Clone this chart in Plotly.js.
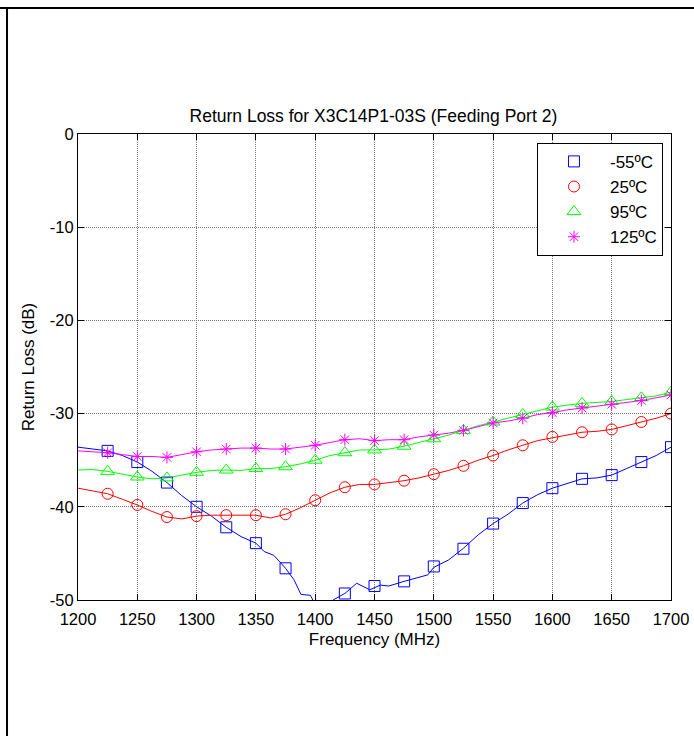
<!DOCTYPE html>
<html>
<head>
<meta charset="utf-8">
<script src="https://cdn.plot.ly/plotly-3.0.1.min.js"></script>
<style>html,body{margin:0;padding:0;background:#fff;}#chart{width:694px;height:736px;}</style>
</head>
<body>
<div id="chart"></div>
<script>
// ---- data ----
var seriesNames = ["-55ºC", "25ºC", "95ºC", "125ºC"];
var markerFreq = [1225,1250,1275,1300,1325,1350,1375,1400,1425,1450,1475,1500,1525,1550,1575,1600,1625,1650,1675,1700];
var m55Markers = [-34.0,-35.2,-37.4,-40.0,-42.2,-43.9,-46.6,-52.0,-49.3,-48.5,-48.0,-46.4,-44.5,-41.8,-39.6,-38.0,-37.0,-36.6,-35.2,-33.6];
var t25Markers = [-38.6,-39.8,-41.1,-41.0,-40.9,-40.9,-40.8,-39.3,-37.9,-37.6,-37.2,-36.5,-35.6,-34.5,-33.4,-32.5,-32.0,-31.7,-30.9,-30.0];
var t95Markers = [-36.2,-36.8,-36.9,-36.3,-36.05,-35.9,-35.7,-35.0,-34.2,-33.9,-33.5,-32.7,-31.8,-30.9,-30.1,-29.3,-28.9,-28.7,-28.3,-27.7];
var t125Markers = [-34.2,-34.6,-34.7,-34.1,-33.8,-33.7,-33.8,-33.4,-32.8,-32.9,-32.8,-32.3,-31.8,-31.0,-30.5,-29.9,-29.4,-29.0,-28.6,-28.0];

var lineFreq = [1200,1212.5,1225,1237.5,1250,1262.5,1275,1287.5,1300,1312.5,1325,1337.5,1350,1362.5,1375,1387.5,1400,1412.5,1425,1437.5,1450,1462.5,1475,1487.5,1500,1512.5,1525,1537.5,1550,1562.5,1575,1587.5,1600,1612.5,1625,1637.5,1650,1662.5,1675,1687.5,1700];
var t25Line = [-38.0,-38.3,-38.6,-39.2,-39.8,-40.5,-41.1,-41.3,-41.0,-40.9,-40.9,-40.9,-40.9,-41.2,-40.8,-40.1,-39.3,-38.5,-37.9,-37.6,-37.6,-37.4,-37.2,-36.9,-36.5,-36.1,-35.6,-35.0,-34.5,-33.9,-33.4,-32.9,-32.6,-32.3,-32.0,-31.9,-31.7,-31.3,-30.9,-30.5,-30.0];
var t95Line = [-36.05,-36.0,-36.2,-36.5,-36.8,-37.0,-36.9,-36.6,-36.3,-36.1,-36.05,-36.1,-35.9,-35.9,-35.7,-35.4,-35.0,-34.5,-34.2,-33.9,-33.9,-33.8,-33.5,-33.1,-32.7,-32.3,-31.8,-31.3,-30.9,-30.5,-30.1,-29.7,-29.3,-29.1,-28.9,-28.8,-28.7,-28.5,-28.3,-28.1,-27.7];
var t125Line = [-34.0,-34.1,-34.2,-34.4,-34.6,-34.6,-34.7,-34.4,-34.1,-33.9,-33.8,-33.7,-33.7,-33.8,-33.8,-33.6,-33.4,-33.1,-32.8,-32.7,-32.9,-32.8,-32.8,-32.5,-32.3,-32.1,-31.8,-31.4,-31.0,-30.8,-30.5,-30.1,-29.9,-29.6,-29.4,-29.2,-29.0,-28.8,-28.6,-28.3,-28.0];

var m55LineFreq = [1200,1212.5,1225,1237.5,1250,1262.5,1275,1287.5,1300,1312.5,1325,1337.5,1350,1357,1365,1375,1382,1388,1396,1402,1410,1415,1425,1435,1446,1455,1462,1475,1487,1495,1500,1512.5,1525,1537.5,1550,1562.5,1575,1587.5,1600,1612.5,1625,1637.5,1650,1662.5,1675,1687.5,1700];
var m55Line = [-33.6,-33.8,-34.0,-34.5,-35.2,-36.2,-37.4,-38.8,-40.0,-41.0,-42.2,-43.2,-43.9,-44.8,-45.2,-46.6,-47.8,-49.4,-49.5,-51.0,-51.5,-50.0,-49.3,-48.2,-48.9,-48.4,-48.5,-48.0,-47.6,-47.3,-46.5,-45.7,-44.45,-43.0,-41.8,-40.8,-39.6,-38.7,-38.0,-37.5,-37.0,-36.9,-36.6,-35.9,-35.2,-34.5,-33.6];

var xTicks = [1200,1250,1300,1350,1400,1450,1500,1550,1600,1650,1700];
var xTickText = ["1200","1250","1300","1350","1400","1450","1500","1550","1600","1650","1700"];
var yTicks = [0,-10,-20,-30,-40,-50];
var yTickText = ["0","-10","-20","-30","-40","-50"];

var colors = ["#0000ff", "#ff0000", "#00ff00", "#ff00ff"];
var symbols = ["square-open", "circle-open", "triangle-up-open", "asterisk-open"];
var sizes = [11, 11, 12, 10];

var lineX = [m55LineFreq, lineFreq, lineFreq, lineFreq];
var lineY = [m55Line, t25Line, t95Line, t125Line];
var markY = [m55Markers, t25Markers, t95Markers, t125Markers];

var traces = [];
for (var i = 0; i < 4; i++) {
  traces.push({
    x: lineX[i], y: lineY[i], type: "scatter", mode: "lines",
    line: {color: colors[i], width: 1}, showlegend: false, hoverinfo: "skip"
  });
}
for (var j = 0; j < 4; j++) {
  traces.push({
    x: markerFreq, y: markY[j], type: "scatter", mode: "markers", name: seriesNames[j],
    marker: {symbol: symbols[j], size: sizes[j], color: colors[j], line: {color: colors[j], width: 1}},
    legendgroup: "g" + j
  });
}

var F = "Liberation Sans, Arial, sans-serif";
var layout = {
  width: 694, height: 736,
  margin: {l: 78, r: 23, t: 134, b: 136},
  paper_bgcolor: "#fff", plot_bgcolor: "#fff",
  font: {family: F, size: 17, color: "#000"},
  title: {text: "Return Loss for X3C14P1-03S (Feeding Port 2)", font: {family: F, size: 17.5, color: "#000"},
          x: 0.538, xanchor: "center", y: 0.8424, yref: "container", yanchor: "middle"},
  xaxis: {
    range: [1200, 1700], tickvals: xTicks, ticktext: xTickText,
    ticks: "inside", ticklen: 6, tickcolor: "#000", tickwidth: 1,
    showline: true, linecolor: "#000", linewidth: 1, mirror: "ticks",
    showgrid: true, gridcolor: "#777", griddash: "1px,1px", gridwidth: 1,
    zeroline: false, tickfont: {family: F, size: 16.5, color: "#000"},
    ticklabelstandoff: 4,
    title: {text: "Frequency (MHz)", font: {family: F, size: 17, color: "#000"}, standoff: 6},
    automargin: false, fixedrange: true
  },
  yaxis: {
    range: [-50, 0], tickvals: yTicks, ticktext: yTickText,
    ticks: "inside", ticklen: 6, tickcolor: "#000", tickwidth: 1,
    showline: true, linecolor: "#000", linewidth: 1, mirror: "ticks",
    showgrid: true, gridcolor: "#777", griddash: "1px,1px", gridwidth: 1,
    zeroline: false, tickfont: {family: F, size: 16.5, color: "#000"},
    title: {text: "Return Loss (dB)", font: {family: F, size: 17, color: "#000"}, standoff: 10},
    automargin: false, fixedrange: true
  },
  legend: {
    x: 0.774, y: 0.981, xanchor: "left", yanchor: "top",
    bgcolor: "#fff", bordercolor: "#000", borderwidth: 1,
    font: {family: F, size: 17, color: "#000"},
    itemwidth: 62, tracegroupgap: 5, traceorder: "normal"
  },
  shapes: [
    {type: "line", xref: "paper", yref: "paper", x0: -0.1315, x1: 1.04, y0: 1.2704, y1: 1.2704, line: {color: "#000", width: 2}},
    {type: "line", xref: "paper", yref: "paper", x0: -0.1197, x1: -0.1197, y0: 1.2725, y1: -0.30, line: {color: "#000", width: 2}}
  ],
  showlegend: true
};

Plotly.newPlot("chart", traces, layout, {displayModeBar: false, staticPlot: true});
</script>
</body>
</html>
